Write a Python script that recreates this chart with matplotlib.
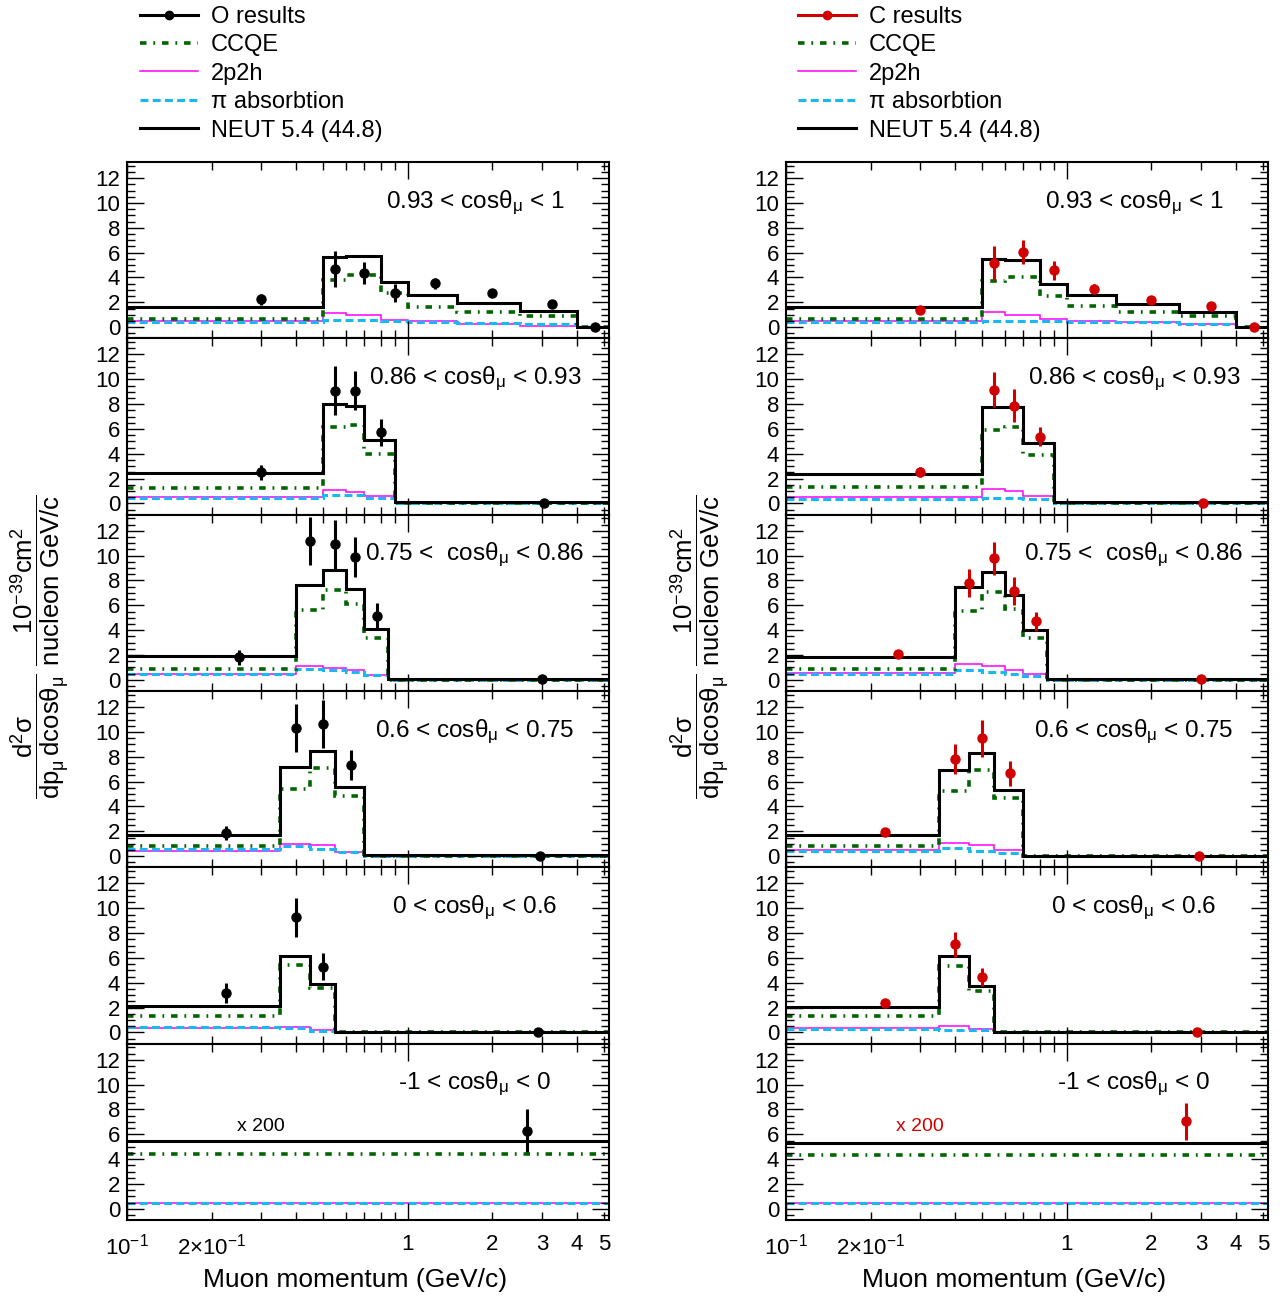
import matplotlib
matplotlib.use('Agg')
import matplotlib.pyplot as plt
from matplotlib.lines import Line2D
from matplotlib.ticker import FixedLocator, FuncFormatter, NullFormatter

plt.rcParams['font.family'] = ['Liberation Sans', 'DejaVu Sans']
plt.rcParams['mathtext.fontset'] = 'custom'
plt.rcParams['mathtext.rm'] = 'Liberation Sans'
plt.rcParams['mathtext.it'] = 'Liberation Sans'
plt.rcParams['mathtext.default'] = 'regular'

# cos theta slices, top to bottom
slice_labels = [r'0.93 < cosθ$_{\mu}$ < 1',
                r'0.86 < cosθ$_{\mu}$ < 0.93',
                r'0.75 <  cosθ$_{\mu}$ < 0.86',
                r'0.6 < cosθ$_{\mu}$ < 0.75',
                r'0 < cosθ$_{\mu}$ < 0.6',
                r'-1 < cosθ$_{\mu}$ < 0']

# momentum bin edges (GeV/c) per slice
edges = [[0.1, 0.5, 0.6, 0.8, 1.0, 1.5, 2.5, 4.0, 30.0],
         [0.1, 0.5, 0.6, 0.7, 0.9, 30.0],
         [0.1, 0.4, 0.5, 0.6, 0.7, 0.85, 30.0],
         [0.1, 0.35, 0.45, 0.55, 0.7, 30.0],
         [0.1, 0.35, 0.45, 0.55, 30.0],
         [0.1, 30.0]]

# where the data points sit
pts_x = [[0.3, 0.55, 0.7, 0.9, 1.25, 2.0, 3.25, 4.65],
         [0.3, 0.55, 0.65, 0.8, 3.05],
         [0.25, 0.45, 0.55, 0.65, 0.775, 3.0],
         [0.225, 0.4, 0.5, 0.625, 2.95],
         [0.225, 0.4, 0.5, 2.9],
         [2.66]]

# oxygen
o_data = [[2.26, 4.7, 4.35, 2.74, 3.52, 2.74, 1.85, 0.03],
          [2.5, 9.09, 9.09, 5.73, 0.05],
          [1.8, 11.2, 10.9, 9.87, 5.16, 0.05],
          [1.85, 10.3, 10.65, 7.34, 0.05],
          [3.2, 9.3, 5.3, 0.05],
          [6.3]]
o_err = [[0.45, 1.45, 0.9, 0.7, 0.45, 0.3, 0.25, 0.05],
         [0.6, 2.0, 1.6, 1.07, 0.05],
         [0.58, 1.95, 1.97, 1.6, 1.0, 0.05],
         [0.58, 1.95, 1.9, 1.2, 0.05],
         [0.8, 1.57, 1.07, 0.05],
         [1.7]]
o_neut = [[1.6, 5.62, 5.7, 3.6, 2.6, 1.94, 1.27, 0.03],
          [2.42, 8.0, 7.88, 5.1, 0.08],
          [1.94, 7.63, 8.87, 7.31, 4.09, 0.05],
          [1.69, 7.15, 8.44, 5.54, 0.08],
          [2.15, 6.18, 3.9, 0.05],
          [5.46]]
o_ccqe = [[0.67, 3.8, 4.2, 2.74, 1.59, 1.21, 0.86, 0.02],
          [1.24, 6.18, 6.3, 3.98, 0.05],
          [0.91, 5.6, 7.26, 6.1, 3.33, 0.02],
          [0.78, 5.4, 7.07, 4.81, 0.03],
          [1.34, 5.43, 3.55, 0.02],
          [4.45]]
o_2p2h = [[0.46, 1.13, 1.0, 0.59, 0.46, 0.27, 0.13, 0.0],
          [0.54, 1.1, 0.94, 0.6, 0.0],
          [0.46, 1.13, 0.97, 0.78, 0.4, 0.0],
          [0.43, 0.97, 0.89, 0.35, 0.0],
          [0.38, 0.46, 0.19, 0.0],
          [0.5]]
o_piabs = [[0.38, 0.6, 0.6, 0.5, 0.4, 0.35, 0.27, 0.02],
           [0.48, 0.7, 0.7, 0.43, 0.02],
           [0.5, 0.91, 0.8, 0.6, 0.38, 0.02],
           [0.56, 0.83, 0.56, 0.3, 0.02],
           [0.46, 0.38, 0.1, 0.02],
           [0.45]]

# carbon
c_data = [[1.4, 5.16, 6.05, 4.57, 3.09, 2.2, 1.67, 0.05],
          [2.55, 9.17, 7.88, 5.38, 0.05],
          [2.07, 7.8, 9.78, 7.18, 4.7, 0.05],
          [1.91, 7.85, 9.49, 6.67, 0.05],
          [2.34, 7.1, 4.49, 0.05],
          [7.06]]
c_err = [[0.15, 1.37, 0.94, 0.74, 0.4, 0.2, 0.2, 0.05],
         [0.4, 1.42, 1.3, 0.78, 0.05],
         [0.2, 1.14, 1.34, 1.14, 0.74, 0.05],
         [0.2, 1.2, 1.5, 1.0, 0.05],
         [0.2, 1.0, 0.74, 0.05],
         [1.49]]
c_neut = [[1.59, 5.48, 5.43, 3.47, 2.55, 1.88, 1.21, 0.0],
          [2.37, 7.8, 7.8, 4.84, 0.08],
          [1.8, 7.45, 8.71, 6.83, 4.0, 0.05],
          [1.69, 6.94, 8.28, 5.32, 0.05],
          [2.07, 6.16, 3.76, 0.05],
          [5.3]]
c_ccqe = [[0.67, 3.74, 4.06, 2.47, 1.67, 1.21, 0.86, 0.0],
          [1.29, 5.9, 6.18, 3.9, 0.05],
          [0.91, 5.56, 7.04, 5.7, 3.33, 0.02],
          [0.78, 5.27, 6.96, 4.65, 0.02],
          [1.32, 5.35, 3.36, 0.02],
          [4.34]]
c_2p2h = [[0.51, 1.21, 0.99, 0.65, 0.48, 0.38, 0.22, 0.0],
          [0.54, 1.16, 1.02, 0.62, 0.0],
          [0.51, 1.26, 1.13, 0.8, 0.46, 0.0],
          [0.46, 1.05, 0.91, 0.51, 0.0],
          [0.38, 0.54, 0.27, 0.0],
          [0.5]]
c_piabs = [[0.38, 0.51, 0.51, 0.46, 0.42, 0.38, 0.24, 0.0],
           [0.4, 0.48, 0.48, 0.35, 0.02],
           [0.46, 0.8, 0.65, 0.46, 0.32, 0.02],
           [0.43, 0.62, 0.38, 0.22, 0.02],
           [0.32, 0.24, 0.19, 0.02],
           [0.45]]

x_major = [0.1, 1.0]
x_minor = [0.2, 0.3, 0.4, 0.5, 0.6, 0.7, 0.8, 0.9, 2.0, 3.0, 4.0, 5.0]
x_ticklabels = {0.1: r'$10^{-1}$', 0.2: r'$2{\times}10^{-1}$', 1.0: '1',
                2.0: '2', 3.0: '3', 4.0: '4', 5.0: '5'}
y_ticks = [0, 2, 4, 6, 8, 10, 12]

legend_labels = ['CCQE', '2p2h', 'π absorbtion', 'NEUT 5.4 (44.8)']
ylab = (r'$\dfrac{d^{2}\sigma}{dp_{\mu}\,dcos\theta_{\mu}}\ '
        r'\dfrac{10^{-39}cm^{2}}{nucleon\ GeV/c}$')

GREEN = '#006400'
MAGENTA = '#ff00ff'
CYAN = '#1ab8f0'
CCQE_LS = (0, (1.8, 1.9, 0.5, 1.9))
PI_LS = (0, (2.6, 1.4))

W, H = 1284, 1296
fig = plt.figure(figsize=(W / 100, H / 100), dpi=100)

top_px, bot_px = 162, 1220
ph = (bot_px - top_px) / 6.0

columns = [
    dict(left=127, name='O results', col='black', data=o_data, err=o_err,
         neut=o_neut, ccqe=o_ccqe, p2h=o_2p2h, pi=o_piabs, ylx=40, leg=140),
    dict(left=786, name='C results', col='#d10000', data=c_data, err=c_err,
         neut=c_neut, ccqe=c_ccqe, p2h=c_2p2h, pi=c_piabs, ylx=700, leg=798),
]


def fmt_x(v, pos):
    for k, s in x_ticklabels.items():
        if abs(v - k) < 1e-6:
            return s
    return ''


for c in columns:
    for i in range(6):
        ax = fig.add_axes([c['left'] / W, 1 - (top_px + (i + 1) * ph) / H,
                           482 / W, ph / H])
        ax.set_xscale('log')
        ax.set_xlim(0.1, 5.2)
        ax.set_ylim(-0.9, 13.3)

        ax.stairs(c['p2h'][i], edges[i], baseline=None, color=MAGENTA, lw=1.1)
        ax.stairs(c['pi'][i], edges[i], baseline=None, color=CYAN, lw=2.2,
                  linestyle=PI_LS)
        ax.stairs(c['ccqe'][i], edges[i], baseline=None, color=GREEN, lw=2.6,
                  linestyle=CCQE_LS)
        ax.stairs(c['neut'][i], edges[i], baseline=None, color='black', lw=2.2)
        ax.errorbar(pts_x[i], c['data'][i], yerr=c['err'][i], fmt='o',
                    color=c['col'], ms=6.5, elinewidth=2.2, capsize=0)

        ax.text(0.722, 0.74, slice_labels[i], transform=ax.transAxes,
                ha='center', va='baseline', fontsize=17.5)
        if i == 5:
            ax.text(0.3, 5.95, 'x 200', ha='center', va='bottom', fontsize=14,
                    color=c['col'])

        ax.xaxis.set_major_locator(FixedLocator(x_major))
        ax.xaxis.set_minor_locator(FixedLocator(x_minor))
        ax.set_yticks(y_ticks)
        ax.yaxis.set_minor_locator(FixedLocator([v * 0.5 for v in range(-1, 27)]))
        ax.tick_params(which='both', direction='in', top=True, right=True,
                       width=1.0, labelsize=16)
        ax.tick_params(which='major', length=12, pad=5)
        ax.tick_params(which='minor', length=6, pad=7)
        ax.tick_params(axis='x', which='both', pad=10)
        for s in ax.spines.values():
            s.set_linewidth(1.5)
        if i == 5:
            ax.xaxis.set_major_formatter(FuncFormatter(fmt_x))
            ax.xaxis.set_minor_formatter(FuncFormatter(fmt_x))
        else:
            ax.xaxis.set_major_formatter(NullFormatter())
            ax.xaxis.set_minor_formatter(NullFormatter())

    fig.text((c['left'] + 228) / W, 1 - 1280 / H, 'Muon momentum (GeV/c)',
             ha='center', va='center', fontsize=19)
    fig.text(c['ylx'] / W, 1 - 647 / H, ylab, rotation=90, ha='center',
             va='center', fontsize=18.5)

    handles = [Line2D([], [], color=c['col'], marker='o', ms=6, lw=2.2),
               Line2D([], [], color=GREEN, lw=2.6, linestyle=CCQE_LS),
               Line2D([], [], color=MAGENTA, lw=1.1),
               Line2D([], [], color=CYAN, lw=2.2, linestyle=PI_LS),
               Line2D([], [], color='black', lw=2.2)]
    fig.legend(handles, [c['name']] + legend_labels, loc='upper left',
               bbox_to_anchor=(c['leg'] / W, 1 - 6 / H), frameon=False,
               fontsize=17, handlelength=2.45, handletextpad=0.55,
               labelspacing=0.27, borderpad=0, borderaxespad=0)

fig.savefig('out.png', dpi=100)
